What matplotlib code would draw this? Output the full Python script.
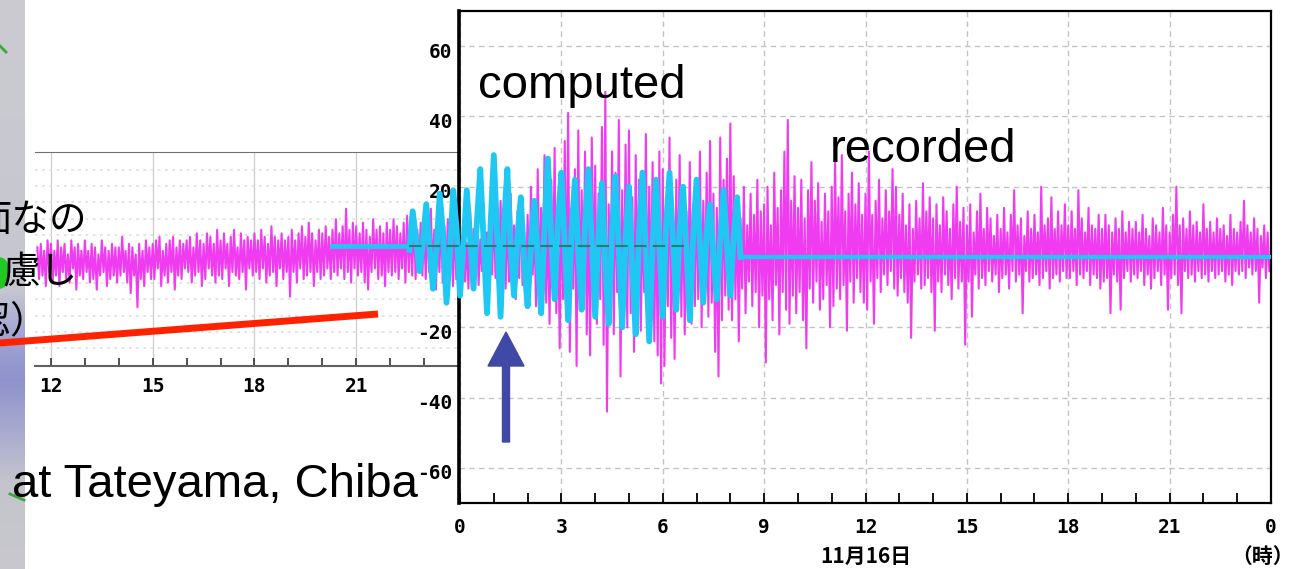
import numpy as np
import matplotlib.pyplot as plt
from matplotlib import transforms
from matplotlib.patches import FancyArrow, Ellipse

plt.rcParams['axes.unicode_minus'] = False

W, H = 1295, 569

# recorded sea level (cm) on 11月16日, 3-minute samples, one row per hour
recorded_rows = [
    [6, -4, 10, -7, 4, -9, 13, -3, 8, -6, 12, -8, 5, -4, 15, -7, 7, -10, 11, -5],
    [14, -6, 8, -11, 16, -4, 7, -9, 12, -7, 18, -5, 9, -12, 13, -6, 17, -8, 7, -13],
    [12, -8, 20, -5, 9, -14, 25, -10, 14, -6, 29, -13, 11, -19, 22, -9, 31, -16, 13, -26],
    [20, -12, 33, -18, 41, -27, 14, -9, 25, -31, 36, -15, 19, -11, 30, -22, 16, -28, 34, -10],
    [26, -19, 18, -12, 37, -25, 47, -44, 15, -14, 30, -22, 24, -10, 39, -34, 19, -17, 32, -20],
    [36, -16, 17, -27, 29, -12, 22, -21, 13, -10, 35, -18, 20, -13, 27, -24, 15, -28, 30, -36],
    [25, -31, 16, -14, 34, -23, 12, -29, 22, -11, 29, -17, 18, -22, 13, -12, 27, -19, 15, -14],
    [21, -12, 30, -20, 16, -10, 24, -17, 33, -13, 18, -27, 14, -34, 34, -18, 22, -11, 28, -15],
    [38, -18, 23, -12, 15, -24, 11, -9, 20, -16, 9, -7, 18, -14, 12, -10, 22, -20, 13, -11],
    [15, -30, 20, -12, 9, -18, 24, -8, 14, -22, 19, -10, 30, -15, 39, -19, 16, -11, 23, -16],
    [14, -10, 22, -18, 11, -26, 19, -9, 27, -13, 16, -7, 21, -15, 10, -12, 18, -8, 13, -20],
    [20, -14, 28, -9, 17, -12, 29, -8, 13, -21, 18, -7, 24, -13, 15, -6, 21, -10, 12, -13],
    [18, -15, 30, -7, 12, -19, 16, -6, 22, -10, 11, -5, 19, -8, 13, -4, 25, -9, 20, -11],
    [12, -6, 18, -10, 9, -13, 15, -23, 8, -7, 16, -5, 11, -9, 21, -8, 13, -6, 17, -10],
    [11, -21, 15, -7, 9, -10, 17, -5, 13, -8, 8, -12, 15, -6, 20, -9, 10, -7, 14, -25],
    [9, -7, 15, -17, 7, -5, 13, -9, 18, -6, 8, -8, 14, -4, 11, -7, 6, -5, 12, -10],
    [8, -6, 14, -5, 7, -9, 12, -4, 19, -7, 9, -5, 11, -16, 6, -4, 13, -7, 8, -6],
    [12, -5, 7, -8, 20, -6, 9, -4, 11, -9, 17, -6, 8, -5, 13, -7, 9, -4, 15, -6],
    [9, -6, 13, -4, 8, -8, 19, -5, 11, -6, 7, -4, 14, -8, 9, -5, 8, -6, 12, -9],
    [8, -7, 12, -6, 9, -16, 7, -5, 11, -7, 8, -15, 13, -6, 7, -4, 10, -7, 8, -5],
    [10, -6, 7, -4, 12, -8, 8, -5, 6, -9, 11, -6, 9, -4, 7, -8, 14, -5, 9, -15],
    [7, -6, 12, -5, 20, -8, 9, -16, 11, -4, 8, -6, 13, -5, 9, -7, 10, -4, 7, -6],
    [15, -5, 8, -7, 10, -4, 7, -6, 11, -5, 8, -4, 9, -7, 6, -5, 12, -8, 8, -4],
    [7, -5, 10, -4, 16, -6, 9, -3, 7, -5, 11, -4, 8, -13, 6, -3, 9, -6, 7, -4],
]
sample_step = 0.05

# recorded sea level on 11月15日 from 11:36 to midnight (left panel)
prev_day_rows = [
    [3, -6, 4, -5, 2, -8, 5, -4],
    [4, -7, 2, -5, 5, -8, 3, -4, 4, -6, 1, -7, 5, -3, 3, -9, 4, -5, 2, -6],
    [5, -4, 2, -7, 4, -6, 3, -9, 1, -5, 5, -4, 3, -8, 2, -6, 4, -5, 3, -7],
    [3, -5, 6, -4, 2, -7, 4, -10, 3, -5, 1, -14, 4, -6, 2, -8, 5, -4, 3, -6],
    [4, -6, 5, -3, 6, -8, 2, -5, 4, -7, 5, -4, 6, -9, 3, -5, 5, -6, 4, -3],
    [5, -4, 6, -7, 3, -5, 7, -4, 5, -8, 4, -6, 7, -3, 6, -5, 4, -7, 8, -5],
    [5, -6, 7, -3, 4, -8, 6, -4, 8, -5, 3, -6, 7, -4, 5, -9, 6, -3, 5, -5],
    [7, -4, 5, -6, 8, -3, 6, -7, 4, -5, 9, -4, 6, -8, 5, -3, 7, -6, 5, -4],
    [6, -11, 8, -4, 5, -7, 7, -3, 9, -6, 6, -5, 10, -4, 7, -8, 5, -4, 8, -6],
    [7, -5, 9, -3, 6, -6, 8, -4, 11, -5, 7, -3, 9, -6, 14, -4, 8, -7, 10, -3],
    [9, -5, 7, -4, 10, -7, 8, -9, 6, -4, 11, -3, 8, -6, 9, -5, 7, -8, 10, -4],
    [8, -5, 11, -4, 9, -6, 7, -3, 10, -7, 12, -4, 9, -5, 13, -6, 8, -4, 10, -5],
    [9, -6, 11, -4, 14, -5, 8, -9, 10, -4, 12, -7, 9, -5, 11, -3, 13, -8, 10, -6],
]
prev_day_start = 11.6

# computed tsunami waveform, 6-minute samples from -1.5 h
computed = [
    2, 13, 5, -4, 4, 15, 3, -9, 2, 18,
    6, -13, 1, 19, 8, -11, 3, 19, 5, -9,
    10, 25, 4, -16, 8, 29, 6, -17, 9, 25,
    2, -11, 6, 17, -2, -14, 4, 16, 0, -16,
    8, 28, 5, -12, 10, 24, 3, -18, 7, 22,
    1, -15, 9, 25, 4, -17, 6, 21, -3, -19,
    8, 23, 2, -20, 5, 20, -4, -22, 7, 24,
    1, -24, 4, 22, 3, -17, 9, 24, 5, -15,
    8, 20, 2, -18, 6, 22, 4, -13, 7, 15,
    0, -12, 5, 19, 3, -11, 6, 17, 0,
]
computed_start = -1.5
computed_step = 0.1
computed_level = 3          # level of the computed record before / during arrival
computed_level_from = -3.8
computed_level_to = 6.8

x_major = [0, 3, 6, 9, 12, 15, 18, 21, 24]
x_labels = ['0', '3', '6', '9', '12', '15', '18', '21', '0']
y_major = [-60, -40, -20, 20, 40, 60]
prev_major = [12, 15, 18, 21]

MAGENTA = '#f03cf0'
CYAN = '#1ec8f2'
tick_font = dict(fontfamily='DejaVu Sans Mono', fontweight='bold', fontsize=14)

recorded = np.ravel(recorded_rows)
rec_hours = np.arange(len(recorded)) * sample_step
prev_day = np.concatenate([np.array(r) for r in prev_day_rows])
prev_hours = prev_day_start + np.arange(len(prev_day)) * sample_step
comp_hours = computed_start + np.arange(len(computed)) * computed_step

fig = plt.figure(figsize=(W / 100, H / 100), dpi=100)


def px_axes(x0, y0, x1, y1, **kw):
    return fig.add_axes([x0 / W, 1 - y1 / H, (x1 - x0) / W, (y1 - y0) / H], **kw)


# previous day panel (left, partly hidden)
ax_prev = px_axes(35, 152, 458, 366, zorder=1)
ax_prev.set_facecolor('none')
ax_prev.plot(prev_hours, prev_day, color=MAGENTA, lw=1.5)
ax_prev.set_xlim(11.53, 24.0)
ax_prev.set_ylim(-30.7, 30.1)
ax_prev.set_xticks(prev_major, [str(t) for t in prev_major], **tick_font)
ax_prev.set_xticks(range(12, 24), minor=True)
ax_prev.set_yticks(np.arange(-25.6, 26, 4.6), minor=True)
ax_prev.set_yticks([])
ax_prev.tick_params(axis='x', which='both', direction='in', length=6, width=1.2,
                    color='#333333', pad=8)
ax_prev.tick_params(axis='y', which='both', length=0)
ax_prev.grid(True, axis='x', which='major', color='#cccccc', lw=0.9)
ax_prev.grid(True, axis='y', which='minor', color='#e0e0e0', lw=1.3, ls=(0, (1.5, 2.5)))
ax_prev.set_axisbelow(True)
ax_prev.spines['left'].set_visible(False)
ax_prev.spines['right'].set_visible(False)
ax_prev.spines['top'].set_color('#707070')
ax_prev.spines['bottom'].set_color('#606060')
ax_prev.spines['bottom'].set_linewidth(1.5)

# main panel
ax = px_axes(459, 11, 1271, 503, zorder=2)
ax.plot(rec_hours, recorded, color=MAGENTA, lw=1.5, zorder=2)
ax.plot([computed_level_from, computed_start], [computed_level] * 2,
        color=CYAN, lw=3.5, clip_on=False, zorder=3)
ax.plot(comp_hours, computed, color=CYAN, lw=4.2, clip_on=False, zorder=3)
ax.plot([comp_hours[-1], 24], [computed[-1]] * 2, color=CYAN, lw=3, zorder=3)
ax.plot([computed_start, computed_level_to], [computed_level] * 2, color='#1f7f74',
        lw=1.5, ls=(0, (6, 3)), clip_on=False, zorder=4)
ax.set_xlim(-0.03, 24)
ax.set_ylim(-70, 70)
ax.set_xticks(x_major, x_labels, **tick_font)
ax.set_xticks(range(25), minor=True)
ax.set_yticks(y_major, [str(v) for v in y_major], **tick_font)
ax.tick_params(axis='x', which='both', direction='in', length=7, width=1.3, pad=11)
ax.tick_params(axis='y', length=0, pad=5)
for lab in ax.get_yticklabels():
    lab.set_transform(lab.get_transform() +
                      transforms.ScaledTranslation(0, -4 / 100, fig.dpi_scale_trans))
ax.grid(True, which='major', color='#c4c4c4', ls=(0, (4, 3)), lw=1.0)
ax.set_axisbelow(True)
for s in ax.spines.values():
    s.set_linewidth(1.6)
ax.spines['left'].set_linewidth(2.6)

# slide overlay: background strip, notes, arrow
ov = fig.add_axes([0, 0, 1, 1], zorder=5)
ov.set_facecolor('none')
stops = [0, 290, 330, 380, 430, 480, 569]
stop_cols = ['#cbcbd0', '#c6c6d0', '#a4a6d4', '#8f92cc', '#a8aad0', '#c4c4cc', '#c8c8ce']
rgb = np.array([[int(c[i:i + 2], 16) / 255 for i in (1, 3, 5)] for c in stop_cols])
ys = np.arange(H)
strip = np.stack([np.interp(ys, stops, rgb[:, k]) for k in range(3)], axis=1)[:, None, :]
ov.imshow(strip, extent=(0, 25, H, 0), aspect='auto', zorder=0)
ov.plot([0, 6], [46, 52], color='#3aa83a', lw=2)
ov.plot([10, 24], [494, 500], color='#3aa83a', lw=2)
ov.add_patch(Ellipse((0, 273), 18, 30, color='#22c822', zorder=1))

jp = dict(fontfamily=['Noto Sans CJK JP', 'DejaVu Sans'], fontsize=27, ha='right',
          va='center', color='black', zorder=2)
ov.text(87, 220, '面なの', **jp)
ov.text(78, 273, '慮し', **jp)
ov.text(48, 322, '確認）', **jp)

ov.plot([0, 378], [343, 314], color='#ff2200', lw=5, solid_capstyle='butt', zorder=2)
ov.add_patch(FancyArrow(506, 442, 0, -110, width=7, head_width=36, head_length=34,
                        length_includes_head=True, color='#4149a6', zorder=2))

en = dict(fontfamily='Liberation Sans', fontsize=34, va='baseline', color='black', zorder=2)
ov.text(478, 98, 'computed', **en)
ov.text(830, 162, 'recorded', **en)
ov.text(12, 497, 'at Tateyama, Chiba', **en)

lab = dict(fontfamily=['Noto Sans CJK JP', 'DejaVu Sans'], fontweight='bold',
           fontsize=15, va='center', color='black', zorder=2)
ov.text(866, 556, '11月16日', ha='center', **lab)
ov.text(1231, 556, '（時）', ha='left', **lab)

ov.set_xlim(0, W)
ov.set_ylim(H, 0)
ov.axis('off')

fig.savefig('out.png', dpi=100)
